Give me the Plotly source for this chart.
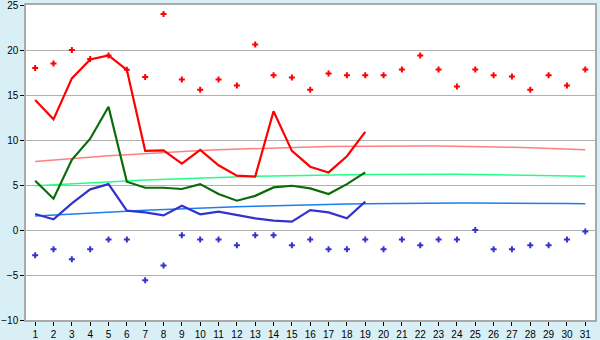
import plotly.graph_objects as go

days = list(range(1, 32))
days_obs = list(range(1, 20))

red_line = [14.44, 12.3, 16.85, 18.96, 19.4, 17.8, 8.8, 8.85, 7.37, 8.9, 7.2, 6.05, 5.93,
            13.2, 8.8, 7.04, 6.4, 8.2, 10.9]
green_line = [5.48, 3.48, 7.8, 10.15, 13.7, 5.37, 4.7, 4.7, 4.56, 5.1, 4.0, 3.26, 3.8,
              4.74, 4.92, 4.63, 4.0, 5.1, 6.4]
blue_line = [1.78, 1.19, 2.96, 4.52, 5.1, 2.15, 1.96, 1.63, 2.7, 1.74, 2.04, 1.67, 1.3,
             1.04, 0.93, 2.22, 1.96, 1.3, 3.15]

red_pts = [18.0, 18.5, 20.0, 19.0, 19.4, 17.8, 17.0, 24.0, 16.74, 15.6, 16.74, 16.07, 20.63,
           17.2, 16.96, 15.6, 17.4, 17.2, 17.2, 17.2, 17.85, 19.4, 17.85, 15.96, 17.85, 17.2,
           17.07, 15.6, 17.2, 16.07, 17.85]
blue_pts = [-2.81, -2.15, -3.26, -2.15, -1.04, -1.04, -5.59, -3.93, -0.59, -1.04, -1.04, -1.7,
            -0.59, -0.59, -1.7, -1.04, -2.15, -2.15, -1.04, -2.15, -1.04, -1.7, -1.04, -1.04,
            0.0, -2.15, -2.15, -1.7, -1.7, -1.04, -0.15]

red_trend = [7.63, 7.80, 7.96, 8.11, 8.25, 8.38, 8.51, 8.62, 8.73, 8.83, 8.92, 9.00, 9.07,
             9.14, 9.20, 9.24, 9.28, 9.31, 9.33, 9.35, 9.35, 9.35, 9.33, 9.31, 9.28, 9.24,
             9.20, 9.14, 9.07, 9.00, 8.92]
green_trend = [4.92, 5.04, 5.15, 5.26, 5.36, 5.46, 5.55, 5.63, 5.71, 5.78, 5.85, 5.91, 5.97,
               6.01, 6.06, 6.10, 6.13, 6.15, 6.17, 6.19, 6.20, 6.20, 6.20, 6.19, 6.17, 6.15,
               6.13, 6.10, 6.06, 6.01, 5.97]
blue_trend = [1.56, 1.68, 1.79, 1.90, 2.00, 2.10, 2.19, 2.28, 2.36, 2.44, 2.51, 2.58, 2.64,
              2.70, 2.75, 2.80, 2.84, 2.88, 2.91, 2.94, 2.96, 2.98, 2.99, 3.00, 3.00, 3.00,
              2.99, 2.98, 2.96, 2.94, 2.91]

y_ticks = [25, 20, 15, 10, 5, 0, -5, -10]
y_labels = ["25", "20", "15", "10", "5", "0", "\u22125", "\u221210"]
x_labels = [str(d) for d in days]

fig = go.Figure()

fig.add_trace(go.Scatter(x=days, y=red_trend, mode="lines",
                         line=dict(color="#ff8080", width=1.5), hoverinfo="skip"))
fig.add_trace(go.Scatter(x=days, y=green_trend, mode="lines",
                         line=dict(color="#22ff88", width=1.5), hoverinfo="skip"))
fig.add_trace(go.Scatter(x=days, y=blue_trend, mode="lines",
                         line=dict(color="#1a80f0", width=1.5), hoverinfo="skip"))

fig.add_trace(go.Scatter(x=days_obs, y=green_line, mode="lines",
                         line=dict(color="#0b6b0b", width=2.2)))
fig.add_trace(go.Scatter(x=days_obs, y=blue_line, mode="lines",
                         line=dict(color="#3333cc", width=2.2)))
fig.add_trace(go.Scatter(x=days_obs, y=red_line, mode="lines",
                         line=dict(color="#ff0000", width=2.2)))

fig.add_trace(go.Scatter(x=days, y=red_pts, mode="markers",
                         marker=dict(symbol="cross", size=5, color="#ff0000", line=dict(width=0))))
fig.add_trace(go.Scatter(x=days, y=blue_pts, mode="markers",
                         marker=dict(symbol="cross", size=5, color="#3333cc", line=dict(width=0))))

fig.update_layout(
    width=600, height=340,
    margin=dict(l=26, r=5, t=5, b=20, autoexpand=False),
    paper_bgcolor="#d9eff6",
    plot_bgcolor="#ffffff",
    showlegend=False,
    font=dict(family="Liberation Sans, Arial, sans-serif", size=10, color="#000000"),
    xaxis=dict(range=[0.5, 31.53], tickmode="array", tickvals=days,
               ticktext=x_labels, showgrid=False, zeroline=False, automargin=False,
               ticks="outside", ticklen=4, tickcolor="#000000", tickwidth=1,
               showline=True, linecolor="#aaaaaa", mirror=True, linewidth=1.5,
               tickfont=dict(size=10), ticklabeloverflow="allow"),
    yaxis=dict(range=[-10, 25.01], tickmode="array",
               tickvals=y_ticks, ticktext=y_labels, automargin=False,
               showgrid=True, gridcolor="#b0b0b0", gridwidth=1, zeroline=False,
               ticks="outside", ticklen=4, tickcolor="#000000", tickwidth=1,
               showline=True, linecolor="#aaaaaa", mirror=True, linewidth=1.5,
               tickfont=dict(size=10), ticklabeloverflow="allow"),
)

fig.write_html("out.html")
